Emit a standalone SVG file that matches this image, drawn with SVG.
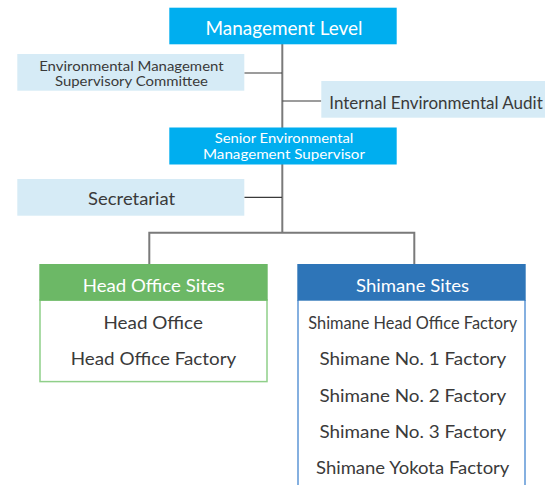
<svg xmlns="http://www.w3.org/2000/svg" width="545" height="485" viewBox="0 0 545 485">
  <style>
    text { font-family: "Lato", "Liberation Sans", sans-serif; text-anchor: middle; }
    .dark { fill: #00aeef; }
    .pale { fill: #d6ebf6; }
    .w { fill: #ffffff; }
    .t { fill: #3a3a3a; }
    .trunk { stroke: #7a7a7a; stroke-width: 2; fill: none; }
    .tick { stroke: #3a3a3a; stroke-width: 1.2; fill: none; }
  </style>
  <rect width="545" height="485" fill="#ffffff"/>

  <g id="connectors">
    <path class="trunk" d="M282.3 44 V232.7"/>
    <path class="trunk" d="M149.3 264 V232.7 H414.3 V264"/>
    <path class="tick" d="M244.3 73 H282"/>
    <path class="tick" d="M282.5 101 H321.3"/>
    <path class="tick" d="M244.3 197.3 H282"/>
  </g>

  <g id="management-level">
    <rect class="dark" x="169.3" y="7.7" width="227.4" height="36.6"/>
    <text class="w" x="284" y="35" font-size="18.5" textLength="157" lengthAdjust="spacingAndGlyphs">Management Level</text>
  </g>

  <g id="supervisory-committee">
    <rect class="pale" x="17.3" y="54" width="227" height="36.7"/>
    <text class="t" x="131.4" y="70.5" font-size="13" textLength="184.5" lengthAdjust="spacingAndGlyphs">Environmental Management</text>
    <text class="t" x="131.5" y="86" font-size="13" textLength="153" lengthAdjust="spacingAndGlyphs">Supervisory Committee</text>
  </g>

  <g id="internal-audit">
    <rect class="pale" x="321.3" y="81" width="223.7" height="36.7"/>
    <text class="t" x="436" y="109" font-size="16.5" textLength="213.5" lengthAdjust="spacingAndGlyphs">Internal Environmental Audit</text>
  </g>

  <g id="senior-supervisor">
    <rect class="dark" x="169.3" y="127.5" width="227.4" height="37"/>
    <text class="w" x="284" y="143" font-size="13" textLength="138.7" lengthAdjust="spacingAndGlyphs">Senior Environmental</text>
    <text class="w" x="284" y="158.6" font-size="13" textLength="162" lengthAdjust="spacingAndGlyphs">Management Supervisor</text>
  </g>

  <g id="secretariat">
    <rect class="pale" x="17.3" y="179" width="227" height="36.7"/>
    <text class="t" x="131.6" y="205" font-size="17" textLength="87" lengthAdjust="spacingAndGlyphs">Secretariat</text>
  </g>

  <g id="head-office-sites">
    <rect x="40" y="300" width="227" height="81.6" fill="#ffffff" stroke="#8fcf89" stroke-width="1.5"/>
    <rect x="39.3" y="264" width="228.4" height="36.7" fill="#6cb866"/>
    <text class="w" x="153.7" y="291.7" font-size="18" textLength="142" lengthAdjust="spacingAndGlyphs">Head Office Sites</text>
    <text class="t" x="153.2" y="329" font-size="17.5" textLength="99.5" lengthAdjust="spacingAndGlyphs">Head Office</text>
    <text class="t" x="153.5" y="365" font-size="17.5" textLength="165.5" lengthAdjust="spacingAndGlyphs">Head Office Factory</text>
  </g>

  <g id="shimane-sites">
    <path d="M298 300 V485 M525 300 V485" stroke="#5d97d6" stroke-width="1.5" fill="none"/>
    <rect x="297.3" y="264" width="228.4" height="36.7" fill="#2e75b8"/>
    <text class="w" x="412.6" y="291.7" font-size="18" textLength="113" lengthAdjust="spacingAndGlyphs">Shimane Sites</text>
    <text class="t" x="412.8" y="329" font-size="17" textLength="209" lengthAdjust="spacingAndGlyphs">Shimane Head Office Factory</text>
    <text class="t" x="412.8" y="365" font-size="17.5" textLength="186.7" lengthAdjust="spacingAndGlyphs">Shimane No. 1 Factory</text>
    <text class="t" x="412.8" y="401.5" font-size="17.5" textLength="186.7" lengthAdjust="spacingAndGlyphs">Shimane No. 2 Factory</text>
    <text class="t" x="412.8" y="437.5" font-size="17.5" textLength="186.7" lengthAdjust="spacingAndGlyphs">Shimane No. 3 Factory</text>
    <text class="t" x="412.7" y="473.5" font-size="17.5" textLength="193.4" lengthAdjust="spacingAndGlyphs">Shimane Yokota Factory</text>
  </g>
</svg>
